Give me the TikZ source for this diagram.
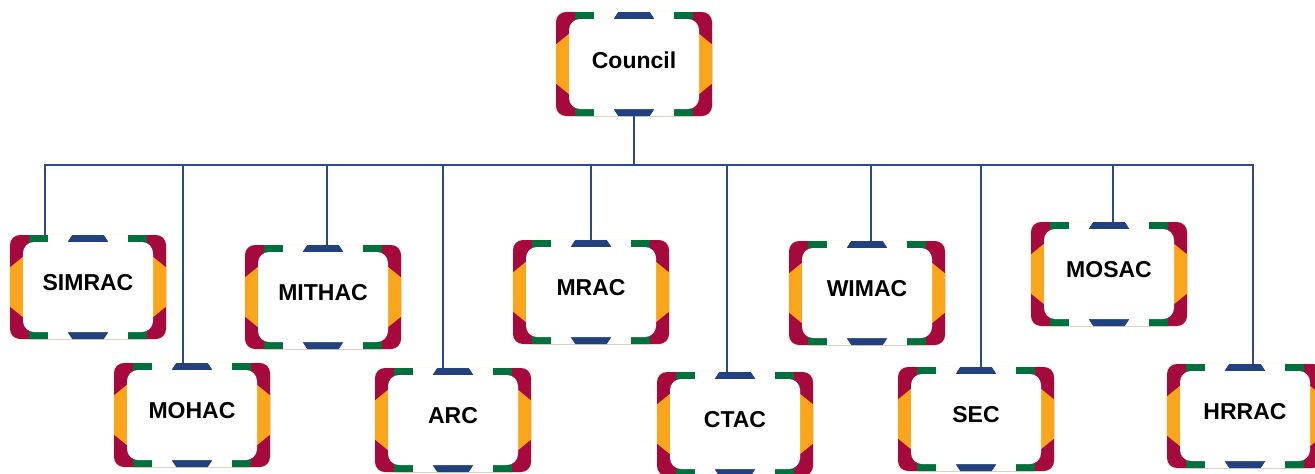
\documentclass[tikz,border=0pt]{standalone}
\usepackage{fontspec}
\setmainfont{Liberation Sans}

\definecolor{unitred}{HTML}{A6093D}
\definecolor{unitgreen}{HTML}{00703C}
\definecolor{unityellow}{HTML}{F9A61C}
\definecolor{unitblue}{HTML}{21427F}
\definecolor{unitcream}{HTML}{FFF1CC}
\definecolor{linkblue}{HTML}{2C4A8A}

\tikzset{
	unitbox/.style={minimum width=156pt, minimum height=104pt, inner sep=0pt},
	unittext/.style={font=\fontsize{23}{27}\selectfont\bfseries, inner sep=0pt},
	link/.style={draw=linkblue, line width=2pt},
}

\newcommand{\orgunit}[4]{%
	\begin{scope}[shift={(#2,#3)}]
		\draw[unitcream, line width=1pt, rounded corners=10pt] (-78,-52) rectangle (78,52);
		\begin{scope}
			\clip[rounded corners=10pt] (-78,-52) rectangle (78,52);
			\fill[unitred] (-80,-54) rectangle (80,54);
			\fill[unitgreen] (-59,-54) rectangle (59,54);
			\fill[white] (-40,-54) rectangle (40,54);
			\fill[unityellow] (-80,-18) -- (-64,-31) -- (-64,31) -- (-80,18) -- cycle;
			\fill[unityellow] (80,-18) -- (64,-31) -- (64,31) -- (80,18) -- cycle;
			\fill[unitblue] (0,0) ellipse [x radius=30, y radius=61];
		\end{scope}
		\fill[white, rounded corners=11pt] (-65,-45) rectangle (65,45);
	\end{scope}
	\node[unitbox] (#1) at (#2,#3) {};
	\node[unittext] at ([yshift=4pt]#1.center) {#4};
}

\begin{document}
\begin{tikzpicture}[x=1pt, y=-1pt]
	\useasboundingbox (0,0) rectangle (1315,474);
	
	\orgunit{council}{634}{64}{Council}
	\orgunit{simrac}{88}{287}{SIMRAC}
	\orgunit{mohac}{192}{415}{MOHAC}
	\orgunit{mithac}{323}{297}{MITHAC}
	\orgunit{arc}{453}{420}{ARC}
	\orgunit{mrac}{591}{292}{MRAC}
	\orgunit{ctac}{735}{424}{CTAC}
	\orgunit{wimac}{867}{293}{WIMAC}
	\orgunit{sec}{976}{419}{SEC}
	\orgunit{mosac}{1109}{274}{MOSAC}
	\orgunit{hrrac}{1245}{416}{HRRAC}
	
	\coordinate (bus) at (634,165);
	\foreach \unit/\dx in {simrac/45, mohac/183, mithac/327, arc/443, mrac/591, ctac/727, wimac/871, sec/981, mosac/1113, hrrac/1253}
		\coordinate (drop-\unit) at (\dx,165);
	
	\draw[link] (council.south) -- (bus);
	\draw[link] (drop-simrac |- simrac.north) -- (drop-simrac) -- (drop-hrrac) -- (drop-hrrac |- hrrac.north);
	\foreach \unit in {mohac, mithac, arc, mrac, ctac, wimac, sec, mosac}
		\draw[link] (drop-\unit) -- (drop-\unit |- \unit.north);
\end{tikzpicture}
\end{document}
